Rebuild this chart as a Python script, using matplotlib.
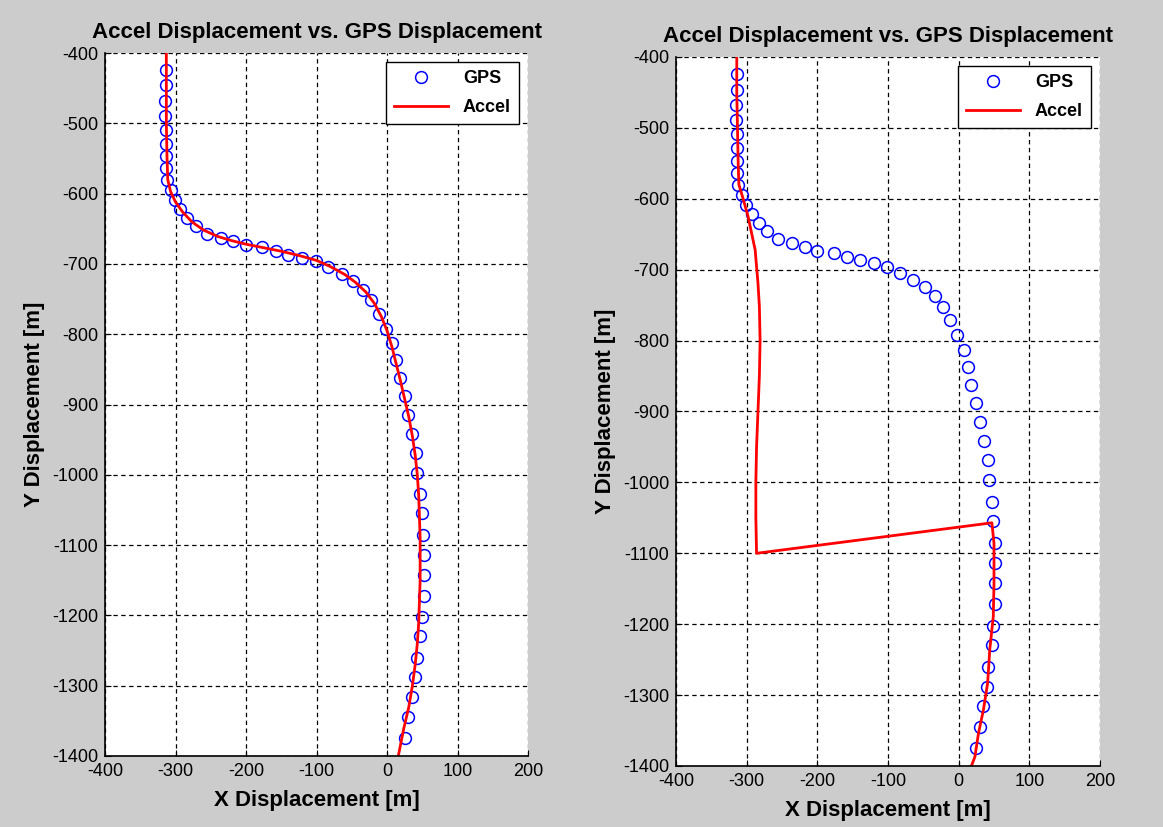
import matplotlib
matplotlib.use("Agg")
import matplotlib.pyplot as plt

plt.rcParams['font.family'] = ['Liberation Sans', 'DejaVu Sans']
plt.rcParams['axes.unicode_minus'] = False

# GPS fixes (same in both panels)
gps_x = [-314, -314, -315, -315, -313, -313, -313, -313, -312, -307, -301, -293, -283,
         -271, -255, -236, -218, -200, -177, -158, -140, -120, -101, -83, -64, -48, -34,
         -22, -12, -2, 7, 13, 18, 25, 30, 36, 41, 43, 47, 49, 51, 52, 52, 52, 49, 47,
         42, 40, 35, 30, 25]
gps_y = [-424, -446, -468, -489, -509, -529, -547, -564, -580, -595, -609, -622, -634,
         -646, -657, -663, -668, -673, -676, -682, -687, -691, -696, -705, -714, -725, -737,
         -752, -771, -792, -813, -837, -863, -888, -915, -942, -969, -997, -1028, -1055, -1085,
         -1114, -1142, -1172, -1202, -1230, -1260, -1288, -1316, -1345, -1375]

# accelerometer track, left panel
acc1_x = [-313, -313, -313, -312, -311, -307, -300, -290, -277, -260, -240, -220, -200,
          -175, -150, -125, -100, -80, -60, -45, -30, -18, -8, 0, 7, 13, 19, 25, 31, 36,
          40, 43, 45, 46, 47, 47, 47, 46, 45, 43, 40, 36, 31, 24, 19, 16]
acc1_y = [-400, -450, -500, -550, -580, -597, -612, -626, -640, -652, -661, -667, -672,
          -677, -682, -688, -695, -704, -715, -726, -740, -756, -775, -795, -818, -842,
          -866, -892, -918, -945, -972, -1000, -1030, -1060, -1090, -1120, -1150, -1180,
          -1210, -1240, -1270, -1300, -1330, -1360, -1385, -1400]

# accelerometer track, right panel (drifting, with jump)
acc2_x = [-314, -314, -313, -312, -311, -305, -298, -288, -284, -282, -281, -282, -284,
          -286, -287, -287, -286, 47, 50, 50, 49, 44, 41, 35, 28, 23, 18]
acc2_y = [-400, -450, -500, -550, -580, -600, -625, -672, -719, -752, -800, -850, -900,
          -950, -1000, -1050, -1100, -1057, -1086, -1142, -1189, -1236, -1283, -1321,
          -1354, -1387, -1400]

xticks = [-400, -300, -200, -100, 0, 100, 200]
yticks = [-400, -500, -600, -700, -800, -900, -1000, -1100, -1200, -1300, -1400]

fig = plt.figure(figsize=(11.63, 8.27), dpi=100)
fig.patch.set_facecolor('#cccccc')

W, H = 1163.0, 827.0
boxes = [(105, 53, 528, 756), (676, 57, 1100, 766)]
tracks = [(acc1_x, acc1_y), (acc2_x, acc2_y)]

for (x0, y0, x1, y1), (ax_, ay_) in zip(boxes, tracks):
    ax = fig.add_axes([x0 / W, 1 - y1 / H, (x1 - x0) / W, (y1 - y0) / H])
    ax.plot(gps_x, gps_y, 'o', mfc='none', mec='#0000ff', ms=8.5, mew=1.1, label='GPS')
    ax.plot(ax_, ay_, '-', color='#ff0000', lw=2, label='Accel')
    ax.set_xlim(-400, 200)
    ax.set_ylim(-1400, -400)
    ax.set_xticks(xticks)
    ax.set_yticks(yticks)
    ax.grid(True, color='black', linestyle=(0, (3.5, 2.8)), lw=0.9)
    ax.set_axisbelow(True)
    ax.spines['top'].set_visible(False)
    ax.spines['right'].set_visible(False)
    ax.spines['left'].set_linewidth(1.2)
    ax.spines['bottom'].set_linewidth(1.2)
    ax.tick_params(direction='in', length=4, labelsize=13, pad=5)
    ax.set_title('Accel Displacement vs. GPS Displacement', fontsize=16,
                 fontweight='bold', pad=11)
    ax.set_xlabel('X Displacement [m]', fontsize=16, fontweight='bold', labelpad=7)
    ax.set_ylabel('Y Displacement [m]', fontsize=16, fontweight='bold', labelpad=5)
    leg = ax.legend(loc='upper right', prop={'weight': 'bold', 'size': 13},
                    fancybox=False, edgecolor='black', framealpha=1,
                    handlelength=3.0, labelspacing=0.65, borderaxespad=0.5,
                    borderpad=0.45)
    leg.get_frame().set_linewidth(1.0)

fig.savefig('out.png', dpi=100, facecolor=fig.get_facecolor())
